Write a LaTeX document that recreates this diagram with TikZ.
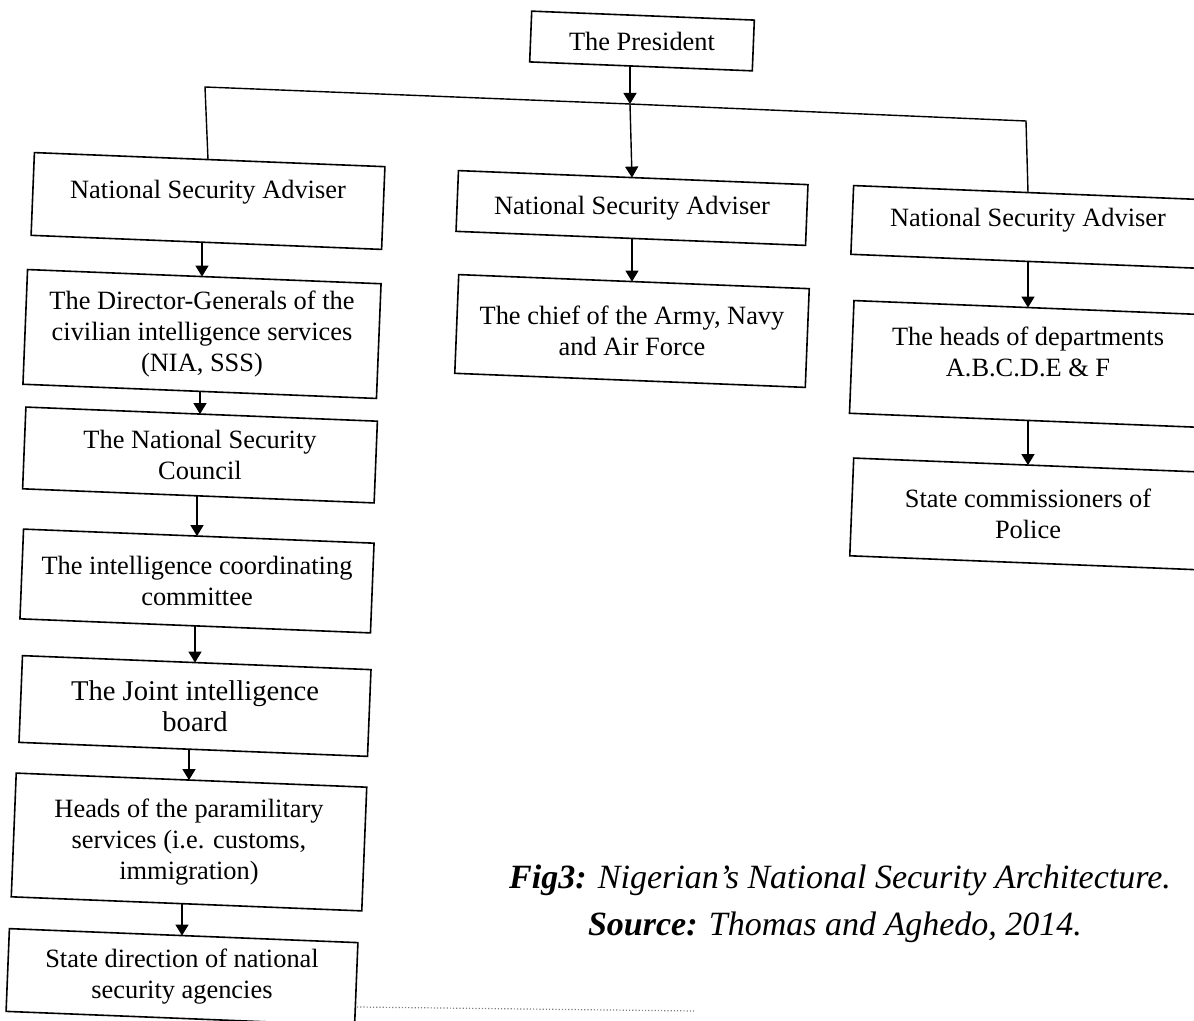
\documentclass[tikz,border=0pt]{standalone}
\usepackage{fontspec}
\setmainfont{Liberation Serif}
\usetikzlibrary{arrows.meta,calc}
\newcommand\tiltbox[1]{%
  \draw[frame] ($(#1.center)!1!-2.3:(#1.north west)$) -- ($(#1.center)!1!-2.3:(#1.north east)$)
    -- ($(#1.center)!1!-2.3:(#1.south east)$) -- ($(#1.center)!1!-2.3:(#1.south west)$) -- cycle;}
\begin{document}
\begin{tikzpicture}[x=0.5pt,y=-0.5pt,
  box/.style={align=center, inner sep=0pt, font=\fontsize{13.2}{15.5}\selectfont},
  frame/.style={line width=0.8pt, line join=miter},
  arr/.style={line width=0.7pt, -{Triangle[length=5.5pt,width=6.5pt]}},
  ln/.style={line width=0.7pt},
  captext/.style={inner sep=0pt, font=\fontsize{17}{20}\selectfont\itshape},
  footrule/.style={gray, line width=0.6pt, densely dotted},
]
\useasboundingbox (0,0) rectangle (1194,1021);
\clip (0,0) rectangle (1194,1021);

% top
\node[box, minimum width=111pt, minimum height=25pt] (pres) at (642,41) {The President};

% second row
\node[box, minimum width=175pt, minimum height=41pt, text depth=12pt] (nsaL) at (208,201) {National Security Adviser};
\node[box, minimum width=174.5pt, minimum height=30pt] (nsaM) at (632,208) {National Security Adviser};
\node[box, minimum width=175.5pt, minimum height=34pt, text depth=10pt] (nsaR) at (1028,227) {National Security Adviser};

% left column
\node[box, minimum width=176.5pt, minimum height=57pt] (dg) at (202,334) {The Director-Generals of the\\civilian intelligence services\\(NIA, SSS)};
\node[box, minimum width=175.5pt, minimum height=40.5pt] (nsc) at (200,455) {The National Security\\Council};
\node[box, minimum width=175pt, minimum height=44.5pt] (icc) at (197,581) {The intelligence coordinating\\committee};
\node[box, minimum width=174pt, minimum height=43pt, font=\fontsize{14.3}{15.5}\selectfont] (jib) at (195,706) {The Joint intelligence\\board};
\node[box, minimum width=175pt, minimum height=61.5pt] (heads) at (189,842) {Heads of the paramilitary\\services (i.e. customs,\\immigration)};
\node[box, minimum width=174pt, minimum height=41pt] (state) at (182,977) {State direction of national\\security agencies};

% middle column
\node[box, minimum width=175pt, minimum height=49pt] (chief) at (632,331) {The chief of the Army, Navy\\and Air Force};

% right column
\node[box, minimum width=176pt, minimum height=56pt, text depth=12pt] (rheads) at (1028,364) {The heads of departments\\A.B.C.D.E \& F};
\node[box, minimum width=176pt, minimum height=48.5pt] (rstate) at (1028,514) {State commissioners of\\Police};

% tilted frames
\foreach \n in {pres,nsaL,nsaM,nsaR,dg,nsc,icc,jib,heads,state,chief,rheads,rstate}{\tiltbox{\n}}

% bus
\coordinate (busL) at (205,87);
\coordinate (busM) at (630,104);
\coordinate (busR) at (1026,121);
\draw[ln] (nsaL.north) -- (busL) -- (busM) -- (busR) -- (nsaR.north);
\draw[arr] (pres.south -| busM) -- (busM);
\draw[arr] (busM) -- (nsaM.north);

% column arrows (vertical)
\draw[arr] (nsaL.south -| dg.north) -- (dg.north);
\draw[arr] (dg.south -| nsc.north) -- (nsc.north);
\draw[arr] (nsc.south -| icc.north) -- (icc.north);
\draw[arr] (icc.south -| jib.north) -- (jib.north);
\draw[arr] (jib.south -| heads.north) -- (heads.north);
\draw[arr] (heads.south -| state.north) -- (state.north);
\draw[arr] (nsaM.south -| chief.north) -- (chief.north);
\draw[arr] (nsaR.south -| rheads.north) -- (rheads.north);
\draw[arr] (rheads.south -| rstate.north) -- (rstate.north);

% caption
\node[captext] (cap1) at (840,880) {\textbf{Fig3:} Nigerian’s National Security Architecture.};
\node[captext] (cap2) at (835,927) {\textbf{Source:} Thomas and Aghedo, 2014.};

% footnote rule
\coordinate (fr1) at (357,1007);
\coordinate (fr2) at (694,1011);
\draw[footrule] (fr1) -- (fr2);
\end{tikzpicture}
\end{document}
